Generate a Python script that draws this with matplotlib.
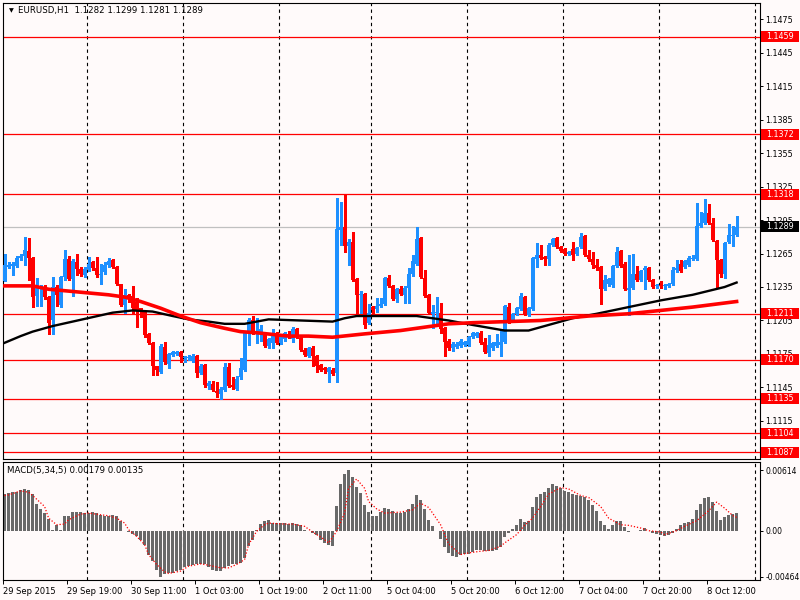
import numpy as np
import matplotlib
matplotlib.use("Agg")
import matplotlib.pyplot as plt
from matplotlib.patches import Rectangle
from matplotlib.transforms import blended_transform_factory

# EURUSD H1 candles, 29 Sep 2015 03:00 .. 8 Oct 2015 19:00
opens = [
    1.1240, 1.1253, 1.1254, 1.1254, 1.1261, 1.1263, 1.1267, 1.1261, 1.1227, 1.1235,
    1.1235, 1.1226, 1.1205, 1.1235, 1.1219, 1.1244, 1.1260, 1.1242, 1.1257, 1.1251,
    1.1246, 1.1251, 1.1257, 1.1252, 1.1246, 1.1248, 1.1255, 1.1259, 1.1253, 1.1238,
    1.1219, 1.1228, 1.1227, 1.1222, 1.1216, 1.1213, 1.1193, 1.1185, 1.1164, 1.1159,
    1.1181, 1.1166, 1.1174, 1.1175, 1.1177, 1.1171, 1.1171, 1.1169, 1.1173, 1.1158,
    1.1165, 1.1146, 1.1148, 1.1142, 1.1139, 1.1143, 1.1163, 1.1147, 1.1144, 1.1154,
    1.1161, 1.1195, 1.1205, 1.1193, 1.1194, 1.1194, 1.1182, 1.1185, 1.1192, 1.1185,
    1.1188, 1.1193, 1.1188, 1.1197, 1.1189, 1.1179, 1.1173, 1.1180, 1.1173, 1.1165,
    1.1162, 1.1159, 1.1161, 1.1158, 1.1286, 1.1289, 1.1272, 1.1275, 1.1242, 1.1228,
    1.1229, 1.1203, 1.1217, 1.1215, 1.1218, 1.1220, 1.1243, 1.1236, 1.1224, 1.1233,
    1.1228, 1.1234, 1.1247, 1.1256, 1.1279, 1.1243, 1.1228, 1.1211, 1.1212, 1.1212,
    1.1198, 1.1187, 1.1180, 1.1181, 1.1182, 1.1183, 1.1183, 1.1190, 1.1191, 1.1194,
    1.1186, 1.1176, 1.1180, 1.1182, 1.1183, 1.1186, 1.1217, 1.1205, 1.1211, 1.1215,
    1.1226, 1.1210, 1.1215, 1.1260, 1.1264, 1.1262, 1.1260, 1.1273, 1.1279, 1.1271,
    1.1269, 1.1265, 1.1269, 1.1265, 1.1271, 1.1281, 1.1264, 1.1260, 1.1255, 1.1253,
    1.1233, 1.1238, 1.1237, 1.1254, 1.1267, 1.1256, 1.1232, 1.1234, 1.1247, 1.1241,
    1.1250, 1.1252, 1.1241, 1.1236, 1.1237, 1.1236, 1.1236, 1.1238, 1.1250, 1.1256,
    1.1253, 1.1255, 1.1260, 1.1260, 1.1290, 1.1292, 1.1301, 1.1292, 1.1276, 1.1259,
    1.1247, 1.1275, 1.1281, 1.1282,
]
highs = [
    1.1265, 1.1257, 1.1257, 1.1263, 1.1265, 1.1280, 1.1279, 1.1262, 1.1243, 1.1237,
    1.1237, 1.1227, 1.1244, 1.1237, 1.1245, 1.1268, 1.1263, 1.1260, 1.1265, 1.1253,
    1.1253, 1.1262, 1.1258, 1.1262, 1.1256, 1.1257, 1.1261, 1.1260, 1.1254, 1.1238,
    1.1233, 1.1229, 1.1236, 1.1225, 1.1216, 1.1213, 1.1194, 1.1186, 1.1164, 1.1184,
    1.1186, 1.1176, 1.1178, 1.1178, 1.1178, 1.1173, 1.1174, 1.1175, 1.1174, 1.1166,
    1.1166, 1.1151, 1.1151, 1.1150, 1.1145, 1.1167, 1.1167, 1.1154, 1.1155, 1.1171,
    1.1196, 1.1207, 1.1209, 1.1207, 1.1201, 1.1195, 1.1189, 1.1197, 1.1195, 1.1192,
    1.1195, 1.1196, 1.1199, 1.1198, 1.1190, 1.1180, 1.1181, 1.1182, 1.1174, 1.1166,
    1.1163, 1.1163, 1.1162, 1.1315, 1.1311, 1.1318, 1.1278, 1.1284, 1.1243, 1.1231,
    1.1230, 1.1220, 1.1218, 1.1225, 1.1225, 1.1244, 1.1246, 1.1237, 1.1234, 1.1236,
    1.1236, 1.1252, 1.1264, 1.1289, 1.1280, 1.1250, 1.1229, 1.1219, 1.1226, 1.1221,
    1.1199, 1.1188, 1.1186, 1.1186, 1.1188, 1.1187, 1.1191, 1.1195, 1.1195, 1.1196,
    1.1189, 1.1192, 1.1186, 1.1193, 1.1196, 1.1219, 1.1221, 1.1212, 1.1217, 1.1230,
    1.1227, 1.1217, 1.1262, 1.1274, 1.1273, 1.1263, 1.1274, 1.1279, 1.1280, 1.1272,
    1.1270, 1.1267, 1.1275, 1.1271, 1.1283, 1.1282, 1.1268, 1.1266, 1.1260, 1.1254,
    1.1246, 1.1243, 1.1255, 1.1271, 1.1268, 1.1257, 1.1264, 1.1265, 1.1254, 1.1250,
    1.1254, 1.1253, 1.1242, 1.1238, 1.1240, 1.1238, 1.1239, 1.1253, 1.1259, 1.1259,
    1.1259, 1.1263, 1.1264, 1.1310, 1.1302, 1.1314, 1.1309, 1.1297, 1.1277, 1.1260,
    1.1275, 1.1291, 1.1290, 1.1299,
]
lows = [
    1.1240, 1.1252, 1.1246, 1.1253, 1.1259, 1.1255, 1.1241, 1.1217, 1.1218, 1.1218,
    1.1224, 1.1193, 1.1193, 1.1218, 1.1217, 1.1241, 1.1241, 1.1227, 1.1246, 1.1245,
    1.1244, 1.1249, 1.1250, 1.1244, 1.1238, 1.1247, 1.1253, 1.1252, 1.1237, 1.1218,
    1.1212, 1.1222, 1.1211, 1.1199, 1.1208, 1.1190, 1.1184, 1.1156, 1.1156, 1.1158,
    1.1166, 1.1162, 1.1173, 1.1174, 1.1168, 1.1168, 1.1170, 1.1168, 1.1154, 1.1157,
    1.1145, 1.1144, 1.1142, 1.1136, 1.1135, 1.1142, 1.1145, 1.1144, 1.1143, 1.1153,
    1.1160, 1.1183, 1.1193, 1.1185, 1.1187, 1.1181, 1.1180, 1.1180, 1.1184, 1.1184,
    1.1187, 1.1189, 1.1186, 1.1189, 1.1178, 1.1173, 1.1172, 1.1164, 1.1159, 1.1160,
    1.1158, 1.1150, 1.1156, 1.1150, 1.1273, 1.1266, 1.1255, 1.1240, 1.1212, 1.1212,
    1.1198, 1.1202, 1.1212, 1.1213, 1.1217, 1.1219, 1.1235, 1.1223, 1.1222, 1.1228,
    1.1221, 1.1221, 1.1245, 1.1255, 1.1243, 1.1226, 1.1211, 1.1198, 1.1200, 1.1194,
    1.1173, 1.1179, 1.1178, 1.1180, 1.1181, 1.1182, 1.1182, 1.1189, 1.1190, 1.1184,
    1.1176, 1.1173, 1.1179, 1.1181, 1.1173, 1.1185, 1.1203, 1.1204, 1.1210, 1.1214,
    1.1210, 1.1209, 1.1214, 1.1253, 1.1260, 1.1255, 1.1255, 1.1272, 1.1270, 1.1266,
    1.1264, 1.1264, 1.1259, 1.1264, 1.1270, 1.1263, 1.1258, 1.1252, 1.1250, 1.1220,
    1.1232, 1.1236, 1.1235, 1.1253, 1.1253, 1.1232, 1.1210, 1.1233, 1.1240, 1.1240,
    1.1233, 1.1240, 1.1234, 1.1234, 1.1234, 1.1233, 1.1235, 1.1237, 1.1248, 1.1248,
    1.1252, 1.1254, 1.1259, 1.1259, 1.1289, 1.1291, 1.1291, 1.1276, 1.1235, 1.1244,
    1.1243, 1.1274, 1.1272, 1.1281,
]
closes = [
    1.1255, 1.1255, 1.1256, 1.1261, 1.1263, 1.1268, 1.1261, 1.1226, 1.1236, 1.1236,
    1.1226, 1.1203, 1.1235, 1.1228, 1.1244, 1.1260, 1.1242, 1.1258, 1.1251, 1.1247,
    1.1251, 1.1256, 1.1252, 1.1246, 1.1247, 1.1255, 1.1258, 1.1253, 1.1238, 1.1219,
    1.1228, 1.1224, 1.1216, 1.1214, 1.1213, 1.1192, 1.1185, 1.1164, 1.1161, 1.1182,
    1.1168, 1.1175, 1.1177, 1.1177, 1.1172, 1.1172, 1.1172, 1.1173, 1.1158, 1.1164,
    1.1147, 1.1149, 1.1143, 1.1140, 1.1144, 1.1163, 1.1146, 1.1145, 1.1153, 1.1162,
    1.1195, 1.1205, 1.1194, 1.1196, 1.1197, 1.1182, 1.1188, 1.1194, 1.1185, 1.1191,
    1.1194, 1.1190, 1.1197, 1.1190, 1.1179, 1.1174, 1.1180, 1.1173, 1.1164, 1.1161,
    1.1161, 1.1162, 1.1157, 1.1287, 1.1289, 1.1272, 1.1275, 1.1241, 1.1228, 1.1229,
    1.1201, 1.1212, 1.1214, 1.1218, 1.1220, 1.1243, 1.1236, 1.1224, 1.1233, 1.1229,
    1.1234, 1.1247, 1.1258, 1.1278, 1.1244, 1.1227, 1.1212, 1.1213, 1.1213, 1.1197,
    1.1186, 1.1180, 1.1184, 1.1184, 1.1187, 1.1186, 1.1190, 1.1194, 1.1194, 1.1185,
    1.1177, 1.1183, 1.1185, 1.1186, 1.1186, 1.1218, 1.1204, 1.1211, 1.1216, 1.1227,
    1.1211, 1.1216, 1.1261, 1.1264, 1.1261, 1.1260, 1.1273, 1.1278, 1.1271, 1.1267,
    1.1265, 1.1266, 1.1264, 1.1270, 1.1280, 1.1264, 1.1260, 1.1255, 1.1252, 1.1233,
    1.1241, 1.1242, 1.1254, 1.1266, 1.1254, 1.1233, 1.1234, 1.1247, 1.1241, 1.1249,
    1.1252, 1.1241, 1.1235, 1.1237, 1.1236, 1.1237, 1.1238, 1.1250, 1.1252, 1.1249,
    1.1258, 1.1261, 1.1261, 1.1290, 1.1292, 1.1301, 1.1292, 1.1277, 1.1259, 1.1247,
    1.1274, 1.1282, 1.1282, 1.1289,
]

# moving averages (bar index, price)
red_ma_idx = [0, 7, 11, 20, 26, 30, 34, 39, 44, 49, 55, 59, 63, 71, 76, 82, 90,
              99, 111, 117, 134, 146, 156, 164, 172, 183]
red_ma_val = [1.1236, 1.1236, 1.1233, 1.1230, 1.1228, 1.1226, 1.1222, 1.1216,
              1.1209, 1.1203, 1.1198, 1.1195, 1.1194, 1.1191, 1.1191, 1.1190,
              1.1193, 1.1196, 1.1202, 1.1203, 1.1205, 1.1209, 1.1211, 1.1214,
              1.1217, 1.1222]
black_ma_idx = [0, 4, 7, 12, 17, 22, 27, 32, 37, 42, 46, 51, 55, 60, 66, 74, 82,
                85, 88, 95, 103, 107, 111, 117, 125, 131, 136, 142, 148, 156,
                164, 172, 180, 183]
black_ma_val = [1.1185, 1.1191, 1.1195, 1.1200, 1.1204, 1.1208, 1.1212, 1.1214,
                1.1213, 1.1209, 1.1206, 1.1204, 1.1202, 1.1202, 1.1206, 1.1205,
                1.1204, 1.1207, 1.1209, 1.1209, 1.1209, 1.1207, 1.1205, 1.1201,
                1.1196, 1.1196, 1.1201, 1.1207, 1.1211, 1.1217, 1.1223, 1.1228,
                1.1235, 1.1239]

# MACD(5,34,5) histogram, one value per bar
macd = [
    0.00369, 0.00379, 0.00389, 0.00396, 0.00409, 0.00423, 0.00416, 0.00369, 0.00268, 0.00221,
    0.00178, 0.00121, 0.00010, 0.00054, 0.00010, 0.00144, 0.00144, 0.00188, 0.00188, 0.00188,
    0.00178, 0.00178, 0.00185, 0.00178, 0.00161, 0.00144, 0.00151, 0.00154, 0.00144, 0.00101,
    0.00000, -0.00013, -0.00034, -0.00057, -0.00091, -0.00141, -0.00242, -0.00309, -0.00393, -0.00464,
    -0.00436, -0.00426, -0.00426, -0.00409, -0.00393, -0.00369, -0.00362, -0.00349, -0.00342, -0.00336,
    -0.00342, -0.00369, -0.00393, -0.00409, -0.00409, -0.00376, -0.00359, -0.00336, -0.00336, -0.00325,
    -0.00275, -0.00158, -0.00091, 0.00010, 0.00067, 0.00094, 0.00111, 0.00077, 0.00077, 0.00077,
    0.00077, 0.00067, 0.00077, 0.00067, 0.00054, 0.00010, -0.00007, -0.00023, -0.00040, -0.00091,
    -0.00124, -0.00141, -0.00158, 0.00245, 0.00470, 0.00570, 0.00614, 0.00547, 0.00446, 0.00379,
    0.00262, 0.00188, 0.00144, 0.00144, 0.00188, 0.00228, 0.00221, 0.00195, 0.00178, 0.00178,
    0.00188, 0.00221, 0.00268, 0.00362, 0.00312, 0.00221, 0.00111, 0.00044, 0.00000, -0.00081,
    -0.00168, -0.00225, -0.00258, -0.00268, -0.00248, -0.00235, -0.00235, -0.00215, -0.00191, -0.00198,
    -0.00201, -0.00208, -0.00201, -0.00191, -0.00168, -0.00067, -0.00023, 0.00020, 0.00054, 0.00121,
    0.00087, 0.00101, 0.00235, 0.00336, 0.00369, 0.00396, 0.00429, 0.00470, 0.00456, 0.00436,
    0.00403, 0.00389, 0.00369, 0.00362, 0.00346, 0.00336, 0.00312, 0.00262, 0.00201, 0.00101,
    0.00054, 0.00020, 0.00054, 0.00101, 0.00101, 0.00034, -0.00013, -0.00007, 0.00000, 0.00010,
    0.00027, 0.00000, -0.00023, -0.00034, -0.00040, -0.00057, -0.00040, -0.00023, 0.00020, 0.00054,
    0.00077, 0.00087, 0.00121, 0.00211, 0.00268, 0.00329, 0.00336, 0.00289, 0.00201, 0.00111,
    0.00134, 0.00161, 0.00168, 0.00179,
]
signal_idx = [0, 1, 4, 6, 7, 10, 11, 13, 15, 16, 19, 21, 24, 26, 28, 30, 31, 33, 35,
              36, 38, 40, 41, 44, 46, 49, 51, 54, 56, 58, 60, 61, 63, 65, 66, 70, 72,
              75, 77, 80, 81, 83, 85, 86, 88, 90, 91, 93, 95, 99, 102, 104, 106, 107,
              109, 111, 114, 116, 119, 121, 124, 125, 128, 130, 132, 134, 136, 139,
              141, 144, 146, 149, 151, 154, 156, 159, 161, 164, 165, 168, 170, 173,
              176, 178, 180, 182, 183]
signal_val = [0.00356, 0.00362, 0.00403, 0.00389, 0.00356, 0.00245, 0.00127, 0.00060,
              0.00067, 0.00111, 0.00168, 0.00178, 0.00161, 0.00151, 0.00127, 0.00077,
              0.00010, -0.00057, -0.00141, -0.00242, -0.00342, -0.00416, -0.00433,
              -0.00409, -0.00359, -0.00336, -0.00349, -0.00376, -0.00376, -0.00342,
              -0.00292, -0.00141, -0.00007, 0.00060, 0.00077, 0.00067, 0.00067, 0.00044,
              -0.00013, -0.00091, -0.00124, -0.00007, 0.00178, 0.00429, 0.00523, 0.00429,
              0.00295, 0.00221, 0.00178, 0.00188, 0.00211, 0.00278, 0.00235, 0.00178,
              0.00060, -0.00134, -0.00242, -0.00225, -0.00208, -0.00201, -0.00158,
              -0.00124, -0.00040, 0.00054, 0.00127, 0.00245, 0.00369, 0.00436, 0.00423,
              0.00356, 0.00336, 0.00245, 0.00127, 0.00060, 0.00054, 0.00027, 0.00000,
              -0.00013, -0.00040, 0.00000, 0.00044, 0.00101, 0.00201, 0.00289, 0.00228,
              0.00154, 0.00135]

levels = [1.1459, 1.1372, 1.1318, 1.1211, 1.1170, 1.1135, 1.1104, 1.1087]
bid = 1.1289
price_ticks = [1.1475, 1.1445, 1.1415, 1.1385, 1.1355, 1.1325, 1.1295,
               1.1265, 1.1235, 1.1205, 1.1175, 1.1145, 1.1115]
macd_ticks = [0.00614, 0.0, -0.00464]
macd_tick_labels = ["0.00614", "0.00", "-0.00464"]
time_idx = [0, 16, 32, 48, 64, 80, 96, 112, 128, 144, 160, 176]
time_labels = ["29 Sep 2015", "29 Sep 19:00", "30 Sep 11:00", "1 Oct 03:00",
               "1 Oct 19:00", "2 Oct 11:00", "5 Oct 04:00", "5 Oct 20:00",
               "6 Oct 12:00", "7 Oct 04:00", "7 Oct 20:00", "8 Oct 12:00"]
day_idx = [21, 45, 69, 92, 116, 140, 164, 188]

BG = "#FFFAFA"
BULL = "#1E90FF"
BEAR = "#FF0000"

plt.rcParams["font.family"] = ["DejaVu Sans"]
plt.rcParams["font.size"] = 6

fig = plt.figure(figsize=(8, 6), dpi=100, facecolor=BG)
ax = fig.add_axes([3 / 800, 1 - 459 / 600, 757 / 800, 456 / 600], facecolor=BG)
ax2 = fig.add_axes([3 / 800, 1 - 580 / 600, 757 / 800, 118 / 600], facecolor=BG)

xmin, xmax = -0.4, -0.4 + 757 / 4
for a in (ax, ax2):
    a.set_xlim(xmin, xmax)
    for s in a.spines.values():
        s.set_linewidth(0.8)
    for d in day_idx:
        a.axvline(d - 0.35, color="black", lw=0.8, ls=(0, (3, 3)), zorder=1)

# ---- price panel
ax.set_ylim(1.108089, 1.148946)
for lv in levels:
    ax.axhline(lv, color=BEAR, lw=0.9, zorder=1.2)
ax.axhline(bid, color="#C0C0C0", lw=0.9, zorder=1.2)

x = np.arange(len(closes))
o, h, l, c = (np.array(v) for v in (opens, highs, lows, closes))
cols = np.where(c >= o, BULL, BEAR)
ax.vlines(x, l, h, colors=cols, lw=0.8, zorder=3, antialiased=False)
ax.bar(x, np.maximum(np.abs(c - o), 0.00004), bottom=np.minimum(o, c),
       width=0.68, color=cols, lw=0, zorder=3, antialiased=False)

ax.plot(black_ma_idx, black_ma_val, color="black", lw=1.7, zorder=4)
ax.plot(red_ma_idx, red_ma_val, color=BEAR, lw=2.6, zorder=4)

ax.yaxis.tick_right()
ax.set_yticks(price_ticks)
ax.set_yticklabels([f"{v:.4f}" for v in price_ticks])
ax.tick_params(axis="y", direction="out", length=2.5, width=0.7, pad=1.5, labelsize=5.8)
ax.set_xticks([])

tr = blended_transform_factory(fig.transFigure, ax.transData)
box_h = 11 * (1.148946 - 1.108089) / 456
for lv, col in [(v, BEAR) for v in levels] + [(bid, "black")]:
    ax.add_patch(Rectangle((761 / 800, lv - box_h / 2), 38 / 800, box_h,
                           transform=tr, facecolor=col, edgecolor="none",
                           clip_on=False, zorder=5))
    ax.text(766 / 800, lv, f"{lv:.4f}", transform=tr, color="white",
            va="center", ha="left", fontsize=5.8, clip_on=False, zorder=6)

ax.text(6 / 757, 1 - 8 / 456, "\u25bc", transform=ax.transAxes, fontsize=4.5,
        va="center", ha="left")
ax.text(15 / 757, 1 - 8 / 456, "EURUSD,H1  1.1282 1.1299 1.1281 1.1289",
        transform=ax.transAxes, fontsize=6.2, va="center", ha="left")

# ---- MACD panel
ax2.set_ylim(-0.00499, 0.00695)
ax2.bar(x, macd, width=0.7, color="#696969", lw=0, zorder=2, antialiased=False)
ax2.plot(signal_idx, signal_val, color=BEAR, lw=0.9, ls=(0, (1, 1.5)), zorder=3)
ax2.yaxis.tick_right()
ax2.set_yticks(macd_ticks)
ax2.set_yticklabels(macd_tick_labels)
ax2.tick_params(axis="y", direction="out", length=2.5, width=0.7, pad=1.2, labelsize=5.5)
ax2.set_xticks([t - 0.35 for t in time_idx])
ax2.set_xticklabels([])
ax2.tick_params(axis="x", direction="out", length=3, width=0.7)
ax2.text(4 / 757, 1 - 9 / 118, "MACD(5,34,5) 0.00179 0.00135",
         transform=ax2.transAxes, fontsize=6.2, va="center", ha="left")

for t, lab in zip(time_idx, time_labels):
    ax2.annotate(lab, xy=(max(t - 0.35, xmin), 0), xycoords=("data", "axes fraction"),
                 xytext=(0, -14), textcoords="offset pixels", ha="left",
                 va="baseline", fontsize=6)

fig.savefig("out.png", dpi=100, facecolor=BG)
